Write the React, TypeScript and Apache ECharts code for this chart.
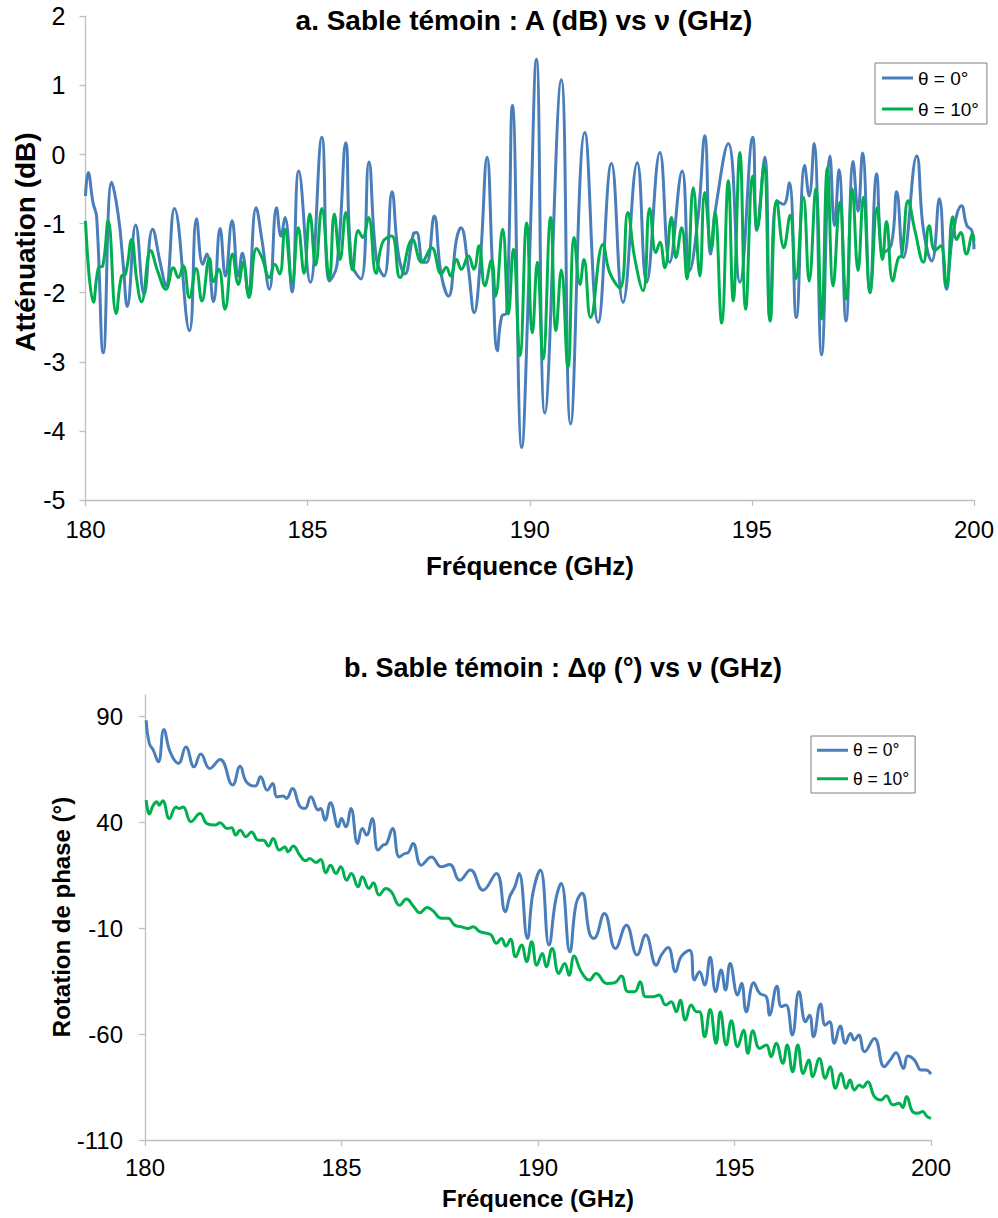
import React, { useEffect, useRef } from "react";
import * as echarts from "echarts";

// ---------- DATA ----------
const TITLE_A = "a. Sable témoin : A (dB) vs ν (GHz)";
const TITLE_B = "b. Sable témoin : Δφ (°) vs ν (GHz)";
const X_TITLE = "Fréquence (GHz)";
const Y_TITLE_A = "Atténuation (dB)";
const Y_TITLE_B = "Rotation de phase (°)";
const SERIES_NAMES = ["θ = 0°", "θ = 10°"];
const X_TICKS = [180, 185, 190, 195, 200];
const Y_TICKS_A = [-5, -4, -3, -2, -1, 0, 1, 2];
const Y_TICKS_B = [-110, -60, -10, 40, 90];

// Chart a, θ = 0°
const aBlueF = [180.0, 180.06, 180.17, 180.25, 180.4, 180.59, 180.74, 180.85, 180.94, 181.13, 181.32, 181.51, 181.68, 181.81, 182.0, 182.34, 182.5, 182.64, 182.73, 182.88, 183.03, 183.15, 183.3, 183.44, 183.53, 183.66, 183.84, 183.97, 184.14, 184.3, 184.4, 184.49, 184.65, 184.8, 185.06, 185.32, 185.49, 185.66, 185.86, 185.99, 186.2, 186.38, 186.55, 186.72, 186.9, 187.04, 187.19, 187.38, 187.45, 187.6, 187.68, 187.85, 188.0, 188.17, 188.35, 188.45, 188.61, 188.75, 188.88, 189.04, 189.16, 189.27, 189.37, 189.48, 189.61, 189.82, 189.99, 190.15, 190.34, 190.71, 190.92, 191.24, 191.54, 191.84, 192.1, 192.42, 192.63, 192.93, 193.15, 193.43, 193.6, 193.79, 193.94, 194.07, 194.17, 194.47, 194.73, 195.02, 195.11, 195.29, 195.41, 195.56, 195.71, 195.84, 196.0, 196.19, 196.29, 196.4, 196.57, 196.76, 196.86, 196.96, 197.12, 197.28, 197.39, 197.49, 197.66, 197.81, 197.96, 198.14, 198.26, 198.41, 198.71, 198.86, 199.05, 199.22, 199.38, 199.53, 199.72, 199.84, 199.95, 200.0];
const aBlueA = [-0.6, -0.26, -0.7, -0.9, -2.87, -0.4, -0.89, -1.6, -2.2, -1.02, -2.02, -1.08, -1.56, -1.9, -0.78, -2.55, -0.93, -1.59, -1.44, -2.13, -1.07, -1.76, -0.96, -1.76, -1.43, -2.0, -0.77, -1.23, -1.95, -0.77, -1.18, -0.91, -1.99, -0.24, -1.85, 0.25, -1.83, -1.6, 0.17, -1.56, -1.8, -0.11, -1.52, -1.76, -0.54, -1.43, -1.73, -1.15, -1.13, -1.56, -1.56, -0.89, -1.71, -2.05, -1.23, -1.06, -1.61, -2.29, -1.61, -0.04, -1.61, -2.84, -2.34, -2.29, 0.71, -4.24, -1.6, 1.38, -3.74, 1.08, -3.9, 0.32, -2.43, -0.13, -2.14, -0.12, -1.85, 0.03, -1.56, -0.24, -1.68, -0.9, 0.27, -1.44, -0.84, 0.16, -1.85, 0.25, -1.1, -0.04, -2.4, -0.67, -0.72, -0.41, -2.36, -0.16, -0.6, 0.16, -2.9, -0.02, -1.03, -0.22, -2.41, -0.1, -0.82, 0.02, -2.0, -0.28, -1.42, -1.3, -0.54, -1.49, -0.02, -1.08, -1.54, -0.64, -1.95, -1.13, -0.74, -1.03, -1.1, -1.37];

// Chart a, θ = 10°
const aGreenF = [180.0, 180.18, 180.29, 180.39, 180.51, 180.69, 180.81, 180.9, 181.04, 181.15, 181.26, 181.47, 181.62, 181.81, 181.98, 182.09, 182.2, 182.34, 182.49, 182.62, 182.79, 182.88, 183.0, 183.14, 183.31, 183.44, 183.55, 183.68, 183.85, 183.97, 184.14, 184.26, 184.37, 184.49, 184.65, 184.79, 184.92, 185.05, 185.18, 185.32, 185.49, 185.6, 185.73, 185.86, 186.01, 186.14, 186.24, 186.37, 186.54, 186.69, 186.89, 187.08, 187.36, 187.57, 187.79, 188.01, 188.12, 188.22, 188.35, 188.46, 188.62, 188.74, 188.86, 188.99, 189.14, 189.23, 189.39, 189.52, 189.63, 189.78, 189.93, 190.06, 190.17, 190.3, 190.47, 190.59, 190.71, 190.86, 191.0, 191.13, 191.22, 191.37, 191.65, 191.8, 192.03, 192.21, 192.36, 192.55, 192.7, 192.84, 192.93, 193.04, 193.19, 193.29, 193.42, 193.54, 193.68, 193.83, 193.94, 194.09, 194.17, 194.32, 194.47, 194.58, 194.73, 194.86, 195.02, 195.12, 195.27, 195.41, 195.56, 195.72, 195.86, 195.99, 196.16, 196.29, 196.44, 196.57, 196.7, 196.83, 196.98, 197.12, 197.26, 197.39, 197.51, 197.66, 197.82, 197.94, 198.03, 198.17, 198.3, 198.37, 198.52, 198.67, 198.86, 198.99, 199.12, 199.25, 199.38, 199.52, 199.61, 199.7, 199.83, 199.97, 200.0];
const aGreenA = [-0.96, -2.14, -1.64, -1.61, -0.96, -2.3, -1.76, -1.73, -1.23, -1.8, -2.13, -1.39, -1.68, -1.95, -1.64, -1.78, -1.61, -2.07, -1.65, -2.12, -1.5, -1.84, -1.66, -2.24, -1.44, -1.88, -1.56, -2.07, -1.36, -1.49, -1.78, -1.59, -1.73, -1.08, -1.85, -1.06, -1.72, -0.86, -1.6, -0.78, -1.8, -0.86, -1.52, -0.84, -1.67, -1.1, -1.2, -0.91, -1.72, -1.27, -1.18, -1.78, -1.23, -1.56, -1.35, -1.73, -1.63, -1.76, -1.52, -1.66, -1.47, -1.66, -1.32, -1.9, -1.53, -2.05, -1.08, -2.31, -1.37, -2.91, -0.99, -2.58, -1.56, -2.96, -0.91, -2.55, -1.67, -3.08, -1.2, -1.88, -1.52, -2.36, -1.3, -1.71, -1.93, -0.84, -1.49, -1.97, -0.78, -1.42, -1.27, -1.64, -0.91, -1.49, -1.06, -1.8, -0.48, -1.76, -0.55, -1.37, -0.84, -2.44, -0.38, -2.12, 0.03, -2.24, -0.31, -1.08, -0.16, -2.41, -0.67, -1.35, -0.88, -1.8, -0.62, -1.83, -0.5, -2.38, -0.19, -1.9, -0.69, -2.09, -0.5, -1.68, -0.62, -2.0, -0.77, -1.52, -0.97, -1.83, -1.49, -1.47, -0.67, -1.1, -1.56, -1.03, -1.39, -1.32, -1.91, -0.9, -1.23, -1.13, -1.44, -1.15, -1.25];

// Chart b, θ = 0°
const bBlueF = [180.03, 180.11, 180.21, 180.34, 180.48, 180.64, 180.85, 181.04, 181.25, 181.42, 181.65, 181.91, 182.23, 182.42, 182.58, 182.8, 182.94, 183.11, 183.25, 183.36, 183.52, 183.6, 183.75, 183.94, 184.07, 184.22, 184.41, 184.47, 184.58, 184.72, 184.92, 185.0, 185.11, 185.24, 185.41, 185.53, 185.64, 185.78, 185.93, 186.06, 186.14, 186.3, 186.47, 186.61, 186.69, 186.82, 187.03, 187.29, 187.54, 187.75, 188.01, 188.28, 188.6, 188.94, 189.17, 189.28, 189.41, 189.52, 189.73, 189.87, 190.06, 190.28, 190.45, 190.59, 190.81, 190.97, 191.12, 191.31, 191.42, 191.69, 191.97, 192.25, 192.52, 192.74, 193.01, 193.14, 193.31, 193.5, 193.64, 193.86, 193.98, 194.11, 194.24, 194.38, 194.52, 194.66, 194.77, 194.89, 195.08, 195.18, 195.3, 195.49, 195.64, 195.81, 195.89, 196.08, 196.19, 196.31, 196.47, 196.64, 196.81, 196.91, 197.01, 197.19, 197.31, 197.42, 197.54, 197.69, 197.82, 197.95, 198.05, 198.16, 198.31, 198.56, 198.81, 198.96, 199.11, 199.3, 199.41, 199.58, 199.75, 199.87, 200.0];
const bBlueP = [88.1, 77.1, 74, 68.5, 83.7, 73.2, 67.7, 75.5, 66.1, 72.1, 65.3, 69.6, 57.5, 66.4, 59, 57, 61.4, 55.1, 58.2, 51.9, 52.3, 51.2, 55.9, 47.5, 46.4, 52, 45.7, 46.4, 40.9, 49.1, 37.8, 41.7, 37.8, 46.4, 29.9, 37, 33.9, 41.7, 26.8, 29.2, 29.7, 37, 23.6, 25.2, 25.5, 29.9, 19.7, 23.6, 18.9, 20, 12.6, 17.4, 7.9, 15.8, -2.3, 4.8, 9.5, 15.8, -14.9, 6.4, 17.4, -18, 3.2, 11.1, -21.2, 1.5, 6.4, -12.5, -14.9, -3.1, -19.6, -8.6, -22.7, -13.3, -27.5, -22.7, -19.1, -30.6, -23.5, -20.4, -34.5, -30.6, -36.9, -23.8, -40, -29.8, -39.2, -26.7, -41.6, -36, -49.5, -35.8, -40.8, -42.4, -51.1, -37.4, -47, -46.3, -60.5, -40, -54.2, -51.1, -61.3, -45.8, -55.8, -54.2, -64.4, -56.2, -64.4, -59.7, -62.8, -60.5, -68.3, -62.1, -75.4, -72.3, -68.8, -76.2, -70.4, -72.3, -77, -77, -78.9];

// Chart b, θ = 10°
const bGreenF = [180.03, 180.11, 180.21, 180.3, 180.36, 180.45, 180.62, 180.79, 180.87, 180.97, 181.17, 181.4, 181.57, 181.78, 181.91, 182.09, 182.2, 182.31, 182.42, 182.57, 182.71, 182.88, 183.01, 183.14, 183.26, 183.42, 183.56, 183.64, 183.77, 183.94, 184.09, 184.19, 184.35, 184.47, 184.6, 184.72, 184.86, 184.98, 185.13, 185.25, 185.42, 185.53, 185.7, 185.81, 185.96, 186.13, 186.27, 186.48, 186.65, 186.84, 186.99, 187.18, 187.33, 187.54, 187.71, 187.88, 188.05, 188.22, 188.35, 188.52, 188.7, 188.81, 188.94, 189.07, 189.18, 189.3, 189.43, 189.58, 189.71, 189.84, 189.97, 190.11, 190.21, 190.36, 190.53, 190.68, 190.79, 190.92, 191.1, 191.31, 191.48, 191.75, 191.95, 192.12, 192.29, 192.46, 192.6, 192.74, 192.92, 193.08, 193.25, 193.39, 193.52, 193.62, 193.75, 193.9, 194.04, 194.11, 194.24, 194.38, 194.53, 194.64, 194.79, 194.92, 195.08, 195.23, 195.34, 195.47, 195.64, 195.81, 195.93, 196.06, 196.23, 196.34, 196.48, 196.61, 196.75, 196.89, 196.99, 197.16, 197.31, 197.43, 197.57, 197.71, 197.84, 197.94, 198.05, 198.18, 198.26, 198.39, 198.56, 198.73, 198.86, 199.03, 199.19, 199.28, 199.38, 199.53, 199.66, 199.79, 199.89, 200.0];
const bGreenP = [50.4, 43.8, 48, 49.6, 48, 50.1, 41.7, 47.2, 46.4, 47.2, 40.2, 44.1, 39.4, 38.6, 39.7, 37, 37.3, 33.9, 36.2, 33.1, 35.4, 31.5, 31.5, 28.8, 32.3, 26.8, 28.3, 26, 28.7, 24.4, 21.8, 22.9, 21, 22.4, 16.1, 19.7, 15.8, 18.9, 12.6, 15.8, 9.5, 14.2, 8.7, 11.4, 5.6, 8.7, 7.1, 0.8, 3.7, 0.1, -2.8, -0.3, -1.9, -5.4, -5.4, -8.6, -9.4, -10.2, -9.4, -11.7, -12.5, -13.3, -17.2, -14.9, -18.5, -15.3, -23.5, -18, -25.9, -16.4, -27.5, -22, -28.2, -19.6, -31.4, -26.7, -32.2, -23.2, -30.6, -34.5, -31.4, -36.1, -35.8, -32.6, -40, -40, -35.3, -42.4, -42.4, -41.6, -46.3, -44.8, -49.5, -44, -53.4, -46.3, -49.5, -49.5, -61.3, -48.4, -64.4, -49.5, -65.2, -53.7, -66, -58.2, -69.1, -58.4, -66.8, -65.2, -70.7, -64.4, -73.8, -65.2, -77.8, -65.2, -78.6, -72.3, -80.1, -71.5, -80.9, -75.4, -85.6, -78.6, -85.6, -81.7, -86.4, -84, -85.1, -82.5, -89.5, -91.1, -89.1, -93.4, -92.6, -94.7, -89.5, -96.6, -97.4, -96.6, -98.7, -99.8];

// ---------- STYLE ----------
const FONT = '"Liberation Sans", Arial, sans-serif';
const BLUE = "#4A7EBB";
const GREEN = "#00B050";
const AXIS = "#BFBFBF";

const pairs = (xs: number[], ys: number[]) => xs.map((x, i) => [x, ys[i]]);

const xAxisCfg = (gridIndex: number, margin: number) => ({
  gridIndex,
  type: "value",
  min: 180,
  max: 200,
  interval: 5,
  axisLine: { onZero: false, lineStyle: { color: AXIS, width: 1.3 } },
  axisTick: { length: 6, lineStyle: { color: AXIS, width: 1.3 } },
  axisLabel: { fontSize: 24, color: "#000", margin, fontFamily: FONT, customValues: X_TICKS },
  splitLine: { show: false },
});

const lineSeries = (name: string, color: string, idx: number, data: number[][]) => ({
  name,
  type: "line",
  xAxisIndex: idx,
  yAxisIndex: idx,
  data,
  smooth: 0.45,
  symbol: "none",
  showSymbol: false,
  lineStyle: { color, width: 3 },
  itemStyle: { color },
});

const legendCfg = (left: number, top: number, padding: number[], gap: number, fontSize: number) => ({
  orient: "vertical",
  left,
  top,
  padding,
  icon: "rect",
  itemWidth: 31,
  itemHeight: 3,
  itemGap: gap,
  borderColor: "#7F7F7F",
  borderWidth: 1,
  textStyle: { fontSize, color: "#000", fontFamily: FONT, lineHeight: fontSize + 1 },
  data: SERIES_NAMES,
});

export default function App() {
  const ref = useRef<HTMLDivElement>(null);
  useEffect(() => {
    if (!ref.current) return;
    const chart = echarts.init(ref.current, undefined, { renderer: "svg" });
    const option: any = {
      animation: false,
      textStyle: { fontFamily: FONT },
      grid: [
        { left: 85.5, top: 16.3, width: 888.5, height: 483.7 },
        { left: 145, top: 695, width: 786, height: 445 },
      ],
      xAxis: [xAxisCfg(0, 17), xAxisCfg(1, 15)],
      yAxis: [
        {
          gridIndex: 0,
          type: "value",
          min: -5,
          max: 2,
          interval: 1,
          axisLine: { show: true, onZero: false, lineStyle: { color: AXIS, width: 1.3 } },
          axisTick: { show: true, length: 6, lineStyle: { color: AXIS, width: 1.3 } },
          axisLabel: { fontSize: 25, color: "#000", margin: 20, fontFamily: FONT, customValues: Y_TICKS_A },
          splitLine: { show: false },
        },
        {
          gridIndex: 1,
          type: "value",
          min: -110,
          max: 100,
          axisLine: { show: true, onZero: false, lineStyle: { color: AXIS, width: 1.3 } },
          axisTick: { show: true, length: 6, lineStyle: { color: AXIS, width: 1.3 }, customValues: Y_TICKS_B },
          axisLabel: { fontSize: 24, color: "#000", margin: 22, fontFamily: FONT, customValues: Y_TICKS_B },
          splitLine: { show: false },
        },
      ],
      legend: [
        legendCfg(875, 63, [5, 8, 5, 7], 11, 19),
        legendCfg(811, 736, [5, 6, 5, 6], 10, 17.5),
      ],
      graphic: [
        {
          type: "text", x: 524, y: 20,
          style: { text: TITLE_A, fontSize: 28, fontWeight: "bold", fontFamily: FONT, fill: "#000", align: "center", verticalAlign: "middle" },
        },
        {
          type: "text", x: 530, y: 566,
          style: { text: X_TITLE, fontSize: 26, fontWeight: "bold", fontFamily: FONT, fill: "#000", align: "center", verticalAlign: "middle" },
        },
        {
          type: "text", x: 25, y: 242, rotation: Math.PI / 2,
          style: { text: Y_TITLE_A, fontSize: 28, fontWeight: "bold", fontFamily: FONT, fill: "#000", align: "center", verticalAlign: "middle" },
        },
        {
          type: "text", x: 563, y: 668,
          style: { text: TITLE_B, fontSize: 27, fontWeight: "bold", fontFamily: FONT, fill: "#000", align: "center", verticalAlign: "middle" },
        },
        {
          type: "text", x: 538, y: 1198,
          style: { text: X_TITLE, fontSize: 24, fontWeight: "bold", fontFamily: FONT, fill: "#000", align: "center", verticalAlign: "middle" },
        },
        {
          type: "text", x: 61, y: 917, rotation: Math.PI / 2,
          style: { text: Y_TITLE_B, fontSize: 24, fontWeight: "bold", fontFamily: FONT, fill: "#000", align: "center", verticalAlign: "middle" },
        },
      ],
      series: [
        lineSeries(SERIES_NAMES[0], BLUE, 0, pairs(aBlueF, aBlueA)),
        lineSeries(SERIES_NAMES[1], GREEN, 0, pairs(aGreenF, aGreenA)),
        lineSeries(SERIES_NAMES[0], BLUE, 1, pairs(bBlueF, bBlueP)),
        lineSeries(SERIES_NAMES[1], GREEN, 1, pairs(bGreenF, bGreenP)),
      ],
    };
    chart.setOption(option);
    return () => chart.dispose();
  }, []);
  return (
    <div
      ref={ref}
      style={{ position: "absolute", left: 0, top: 0, width: 998, height: 1218, background: "#fff" }}
    />
  );
}
